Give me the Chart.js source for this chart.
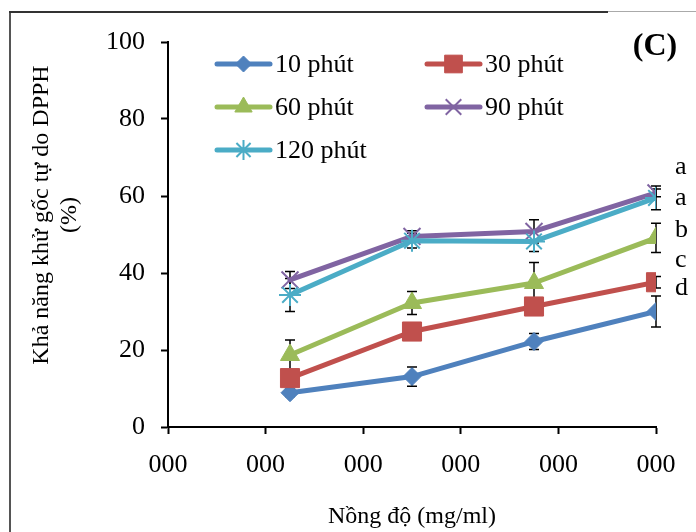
<!DOCTYPE html>
<html>
<head>
<meta charset="utf-8">
<script src="https://cdn.jsdelivr.net/npm/chart.js@4/dist/chart.umd.min.js"></script>
<style>
    html, body { margin: 0; padding: 0; background: #fff; }
    #wrap { width: 696px; height: 532px; position: relative; }
</style>
</head>
<body>
<div id="wrap"><canvas id="chart" width="696" height="532"></canvas></div>
<script>
// Concentration (mg/ml) and x tick range
var concentrations = [0.25, 0.5, 0.75, 1.0];
var xTickMin = 0, xTickMax = 1, xTickStep = 0.2;
var xTickLabel = '000';

// Series names
var seriesNames = ['10 phút', '30 phút', '60 phút', '90 phút', '120 phút'];

// DPPH scavenging (%) per series
var min10  = [8.9, 13.1, 22.2, 30.0];
var min30  = [12.7, 24.8, 31.3, 37.6];
var min60  = [18.7, 32.2, 37.4, 49.1];
var min90  = [38.2, 49.5, 50.8, 60.8];
var min120 = [34.3, 48.4, 48.2, 59.5];

// Error bars (+/-)
var err10  = [1.0, 2.5, 2.1, 4.0];
var err30  = [1.5, 1.5, 1.5, 1.5];
var err60  = [3.9, 3.0, 5.3, 3.8];
var err90  = [2.2, 1.5, 3.0, 1.0];
var err120 = [4.3, 1.9, 2.6, 3.1];

// Significance letters at the last concentration
var sigLetters = ['a', 'a', 'b', 'c', 'd'];
var sigLetterY = [67.7, 59.6, 51.4, 43.6, 36.2];

var FONT = 'Liberation Serif';

var values = [min10, min30, min60, min90, min120];
var errors = [err10, err30, err60, err90, err120];
var colors = ['#4F81BD', '#C0504D', '#9BBB59', '#8064A2', '#4BACC6'];
var styles = [
    { pointStyle: 'rectRot', radius: 9, borderWidth: 1 },
    { pointStyle: 'rect', radius: 13.5, borderWidth: 1 },
    { pointStyle: 'triangle', radius: 11, borderWidth: 1 },
    { pointStyle: 'crossRot', radius: 12, borderWidth: 2 },
    { pointStyle: 'star', radius: 11, borderWidth: 2 }
];

function toPoints(arr) {
    return arr.map(function(v, i) { return { x: concentrations[i], y: v }; });
}

var datasets = seriesNames.map(function(name, i) {
    return {
        label: name,
        data: toPoints(values[i]),
        borderColor: colors[i],
        backgroundColor: colors[i],
        borderWidth: 5,
        borderCapStyle: 'round',
        borderJoinStyle: 'round',
        pointStyle: styles[i].pointStyle,
        pointRadius: styles[i].radius,
        pointBorderWidth: styles[i].borderWidth,
        pointBackgroundColor: colors[i],
        pointBorderColor: colors[i],
        tension: 0,
        fill: false,
        order: seriesNames.length - i
    };
});

// Frame, error bars, custom legend, letters and titles
var extrasPlugin = {
    id: 'extras',
    beforeDraw: function(chart) {
        var ctx = chart.ctx;
        ctx.save();
        ctx.fillStyle = '#fff';
        ctx.fillRect(0, 0, chart.width, chart.height);
        ctx.lineWidth = 2;
        ctx.strokeStyle = '#555';
        ctx.beginPath();
        ctx.moveTo(10, 11);
        ctx.lineTo(10, chart.height);
        ctx.stroke();
        ctx.strokeStyle = '#333';
        ctx.beginPath();
        ctx.moveTo(9, 12);
        ctx.lineTo(608, 12);
        ctx.stroke();
        ctx.lineWidth = 1;
        ctx.strokeStyle = '#aaa';
        ctx.beginPath();
        ctx.moveTo(608, 11.5);
        ctx.lineTo(chart.width, 11.5);
        ctx.stroke();
        ctx.restore();
    },
    beforeDatasetsDraw: function(chart) {
        var ctx = chart.ctx;
        var yScale = chart.scales.y;
        ctx.save();
        ctx.strokeStyle = '#000';
        ctx.lineWidth = 1.5;
        errors.forEach(function(errs, i) {
            var meta = chart.getDatasetMeta(i);
            errs.forEach(function(e, j) {
                var x = meta.data[j].x;
                var v = values[i][j];
                var yT = yScale.getPixelForValue(v + e);
                var yB = yScale.getPixelForValue(v - e);
                ctx.beginPath();
                ctx.moveTo(x, yT); ctx.lineTo(x, yB);
                ctx.moveTo(x - 5, yT); ctx.lineTo(x + 5, yT);
                ctx.moveTo(x - 5, yB); ctx.lineTo(x + 5, yB);
                ctx.stroke();
            });
        });
        ctx.restore();
    },
    afterDraw: function(chart) {
        var ctx = chart.ctx;
        var area = chart.chartArea;
        var yScale = chart.scales.y;
        ctx.save();

        // legend, two columns
        ctx.font = '26px "' + FONT + '"';
        ctx.textBaseline = 'middle';
        ctx.textAlign = 'left';
        seriesNames.forEach(function(name, i) {
            var col = i % 2, row = Math.floor(i / 2);
            var x0 = 217 + col * 210;
            var y = 64 + row * 43;
            ctx.strokeStyle = colors[i];
            ctx.lineWidth = 5;
            ctx.lineCap = 'round';
            ctx.beginPath();
            ctx.moveTo(x0, y);
            ctx.lineTo(x0 + 53, y);
            ctx.stroke();
            ctx.lineCap = 'butt';
            ctx.fillStyle = colors[i];
            ctx.lineWidth = styles[i].borderWidth;
            Chart.helpers.drawPoint(ctx, {
                pointStyle: styles[i].pointStyle,
                radius: styles[i].radius - 1,
                borderWidth: styles[i].borderWidth,
                rotation: 0
            }, x0 + 26.5, y);
            ctx.fillStyle = '#000';
            ctx.fillText(name, x0 + 58, y + 1);
        });

        // significance letters
        ctx.fillStyle = '#000';
        sigLetters.forEach(function(l, i) {
            ctx.fillText(l, area.right + 19, yScale.getPixelForValue(sigLetterY[i]) + 1);
        });

        // panel label
        ctx.font = 'bold 32px "' + FONT + '"';
        ctx.textAlign = 'center';
        ctx.fillText('(C)', 655, 47);

        // y axis title, two lines
        ctx.font = '24px "' + FONT + '"';
        ctx.translate(42, 215);
        ctx.rotate(-Math.PI / 2);
        ctx.fillText('Khả năng khử gốc tự do DPPH', 0, 0);
        ctx.fillText('(%)', 0, 28);
        ctx.restore();
    }
};

var ctx = document.getElementById('chart').getContext('2d');
new Chart(ctx, {
    type: 'line',
    data: { datasets: datasets },
    options: {
        responsive: false,
        animation: false,
        layout: { padding: { left: 10, top: 42, right: 40, bottom: 0 } },
        plugins: {
            legend: { display: false },
            tooltip: { enabled: false }
        },
        scales: {
            x: {
                type: 'linear',
                min: xTickMin,
                max: xTickMax,
                ticks: {
                    stepSize: xTickStep,
                    color: '#000',
                    padding: 16,
                    maxRotation: 0,
                    font: { family: FONT, size: 26 },
                    callback: function() { return xTickLabel; }
                },
                grid: {
                    display: true,
                    drawOnChartArea: false,
                    drawTicks: true,
                    tickLength: 7,
                    tickWidth: 2,
                    tickColor: '#000'
                },
                border: { display: true, color: '#000', width: 2 },
                title: {
                    display: true,
                    text: 'Nồng độ (mg/ml)',
                    color: '#000',
                    font: { family: FONT, size: 24 },
                    padding: { top: 0, bottom: 1 }
                },
                afterFit: function(scale) { scale.height = 105; }
            },
            y: {
                min: 0,
                max: 100,
                ticks: {
                    stepSize: 20,
                    color: '#000',
                    padding: 16,
                    font: { family: FONT, size: 26 }
                },
                grid: {
                    display: true,
                    drawOnChartArea: false,
                    drawTicks: true,
                    tickLength: 7,
                    tickWidth: 2,
                    tickColor: '#000'
                },
                border: { display: true, color: '#000', width: 2 },
                afterFit: function(scale) { scale.width = 158; }
            }
        }
    },
    plugins: [extrasPlugin]
});
</script>
</body>
</html>
